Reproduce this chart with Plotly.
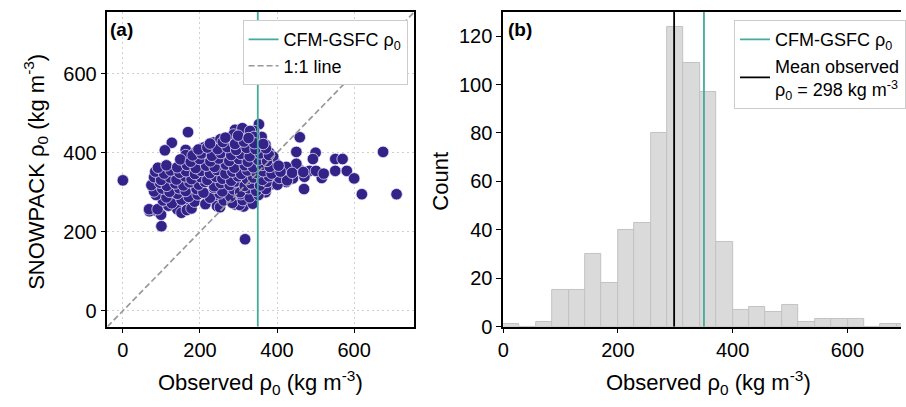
import plotly.graph_objects as go
import numpy as np

# ---------------- data ----------------
# Panel (a): observed vs SNOWPACK surface density (kg m-3)
obs_rho = [
    0, 69, 90, 99, 100, 148, 317, 169, 127, 109,
    163, 163, 353, 459, 450, 500, 493, 551, 570, 675,
    551, 581, 600, 620, 710, 516, 470, 433, 459, 484,
    501, 416, 398, 441, 471, 450, 424, 394, 381, 291,
    321, 347, 287, 236, 253, 210, 223, 189, 189, 99,
    133, 159, 68, 90, 141, 167, 236, 270, 296, 321,
    244, 291, 321, 313, 398, 424, 370, 380, 390, 370,
    385, 360, 340, 365, 310, 330, 300, 340,
    # core of the cloud
    152, 166,
    118, 178, 252, 303,
    104, 127, 152, 186, 214, 262, 284, 311, 337,
    86, 113, 141, 171, 194, 226, 251, 279, 306, 329, 352,
    81, 102, 121, 146, 163, 191, 209, 236, 258, 287, 304, 326, 346, 371,
    74, 96, 114, 136, 157, 173, 197, 213, 237, 254, 277, 293, 316, 333, 356, 374, 401,
    81, 99, 122, 139, 161, 178, 202, 219, 241, 258, 281, 299, 322, 338, 362, 379, 406, 426,
    84, 107, 124, 147, 164, 187, 203, 226, 244, 266, 284, 307, 323, 347, 364, 386, 409, 439, 468, 521,
    91, 113, 141, 166, 189, 216, 238, 267, 289, 316, 338, 361, 381, 404,
    149, 176, 199, 227, 249, 276, 301, 324, 351, 374,
    181, 204, 231, 254, 281, 306, 329, 356, 379,
    196, 219, 246, 271, 294, 321, 344, 371,
    226, 259, 291, 314, 341, 364,
    266, 299, 326,
]
snowpack_rho = [
    330, 252, 252, 243, 214, 252, 181, 452, 425, 406,
    407, 394, 472, 439, 402, 400, 384, 384, 384, 402,
    354, 354, 335, 295, 295, 336, 308, 354, 356, 354,
    354, 331, 331, 335, 339, 372, 364, 376, 356, 458,
    450, 429, 446, 426, 434, 413, 380, 401, 380, 290,
    286, 274, 257, 257, 257, 266, 282, 290, 274, 286,
    265, 269, 277, 264, 326, 326, 420, 400, 390, 300,
    320, 440, 455, 405, 462, 455, 440, 440,
    248, 255,
    266, 259, 262, 268,
    279, 272, 281, 276, 270, 279, 273, 280, 271,
    293, 287, 296, 288, 294, 286, 297, 289, 295, 287, 293,
    302, 309, 301, 310, 303, 308, 299, 311, 302, 307, 300, 310, 303, 308,
    318, 324, 316, 322, 317, 325, 319, 326, 315, 323, 318, 327, 316, 322, 317, 326, 319,
    338, 331, 337, 332, 340, 333, 338, 331, 339, 334, 329, 340, 333, 337, 331, 340, 336, 330,
    352, 347, 355, 349, 353, 346, 354, 348, 356, 347, 352, 346, 355, 349, 353, 347, 352, 349, 351, 347,
    362, 368, 363, 369, 361, 367, 364, 370, 362, 368, 363, 369, 364, 367,
    383, 377, 384, 378, 385, 379, 384, 377, 382, 379,
    393, 398, 392, 399, 394, 397, 391, 398, 394,
    408, 413, 409, 414, 407, 412, 409, 411,
    423, 427, 422, 428, 424, 422,
    438, 443, 437,
]

# Panel (b): histogram of observed surface density
hist_counts = [1, 0, 2, 15, 15, 30, 18, 40, 43, 80, 124, 109, 97, 35,
               7, 8, 6, 9, 2, 3, 3, 3, 0, 1, 1]
hist_min, hist_max = 0, 715

cfm_gsfc_rho = 350
mean_obs_rho = 298

tick_vals_a = [0, 200, 400, 600]
tick_vals_bx = [0, 200, 400, 600]
tick_vals_by = [0, 20, 40, 60, 80, 100, 120]

# ---------------- styles ----------------
W, H = 906, 407
FONT = "Liberation Sans, Arial, sans-serif"
INDIGO = "#332288"
TEAL = "#44AA99"
GRAY_DASH = "#999999"

def px_x(p):
    return p / W

def px_y(p):
    return 1 - p / H

edges = np.linspace(hist_min, hist_max, len(hist_counts) + 1)
centers = (edges[:-1] + edges[1:]) / 2
bw = edges[1] - edges[0]

fig = go.Figure()

# scatter
fig.add_trace(go.Scatter(
    x=obs_rho, y=snowpack_rho, mode="markers",
    marker=dict(size=11.5, color=INDIGO, line=dict(color="rgba(235,232,250,0.9)", width=0.8)),
    showlegend=False, xaxis="x", yaxis="y", hoverinfo="skip"))

lo_a, hi_a = -40, 756
fig.add_trace(go.Scatter(
    x=[cfm_gsfc_rho, cfm_gsfc_rho], y=[lo_a, hi_a], mode="lines",
    line=dict(color=TEAL, width=1.8), name="CFM-GSFC ρ<sub>0</sub>",
    legend="legend", xaxis="x", yaxis="y"))
fig.add_trace(go.Scatter(
    x=[lo_a, hi_a], y=[lo_a, hi_a], mode="lines",
    line=dict(color=GRAY_DASH, width=1.7, dash="6px,3px"), name="1:1 line",
    legend="legend", xaxis="x", yaxis="y"))

# histogram
fig.add_trace(go.Bar(
    x=centers, y=hist_counts, width=bw,
    marker=dict(color="#dadada", line=dict(color="#c2c2c2", width=1)),
    showlegend=False, xaxis="x2", yaxis="y2", hoverinfo="skip"))
fig.add_trace(go.Scatter(
    x=[cfm_gsfc_rho, cfm_gsfc_rho], y=[0, 130], mode="lines",
    line=dict(color=TEAL, width=1.8), name="CFM-GSFC ρ<sub>0</sub>",
    legend="legend2", xaxis="x2", yaxis="y2"))
fig.add_trace(go.Scatter(
    x=[mean_obs_rho, mean_obs_rho], y=[0, 130], mode="lines",
    line=dict(color="black", width=1.8),
    name="Mean observed<br>ρ<sub>0</sub> = %d kg m<sup>-3</sup>" % mean_obs_rho,
    legend="legend2", xaxis="x2", yaxis="y2"))

TICKF = dict(family=FONT, size=20, color="black")
axis_common = dict(showline=True, linecolor="black", linewidth=1.6, ticks="outside",
                   ticklen=5, tickwidth=1.3, tickcolor="black", zeroline=False,
                   tickfont=TICKF)

y_dom = [px_y(335.7), px_y(12.3)]

fig.update_layout(
    width=W, height=H, margin=dict(l=0, r=0, t=0, b=0),
    paper_bgcolor="white", plot_bgcolor="white",
    font=dict(family=FONT, color="black"),
    xaxis=dict(domain=[px_x(102.7), px_x(413.3)], range=[lo_a, hi_a], tickvals=tick_vals_a,
               mirror=True, showgrid=True, gridcolor="#d0d0d0", griddash="2px,3px", gridwidth=1,
               anchor="y", **axis_common),
    yaxis=dict(domain=y_dom, range=[lo_a, hi_a], tickvals=tick_vals_a,
               mirror=True, showgrid=True, gridcolor="#d0d0d0", griddash="2px,3px", gridwidth=1,
               anchor="x", **axis_common),
    xaxis2=dict(domain=[px_x(503.3), 1.0], range=[0, 693.5], tickvals=tick_vals_bx,
                mirror=True, showgrid=False, anchor="y2", **axis_common),
    yaxis2=dict(domain=y_dom, range=[0, 130], tickvals=tick_vals_by,
                mirror=False, showgrid=False, anchor="x2", **axis_common),
    legend=dict(x=px_x(239.5), y=px_y(20.7), xanchor="left", yanchor="top",
                bgcolor="white", bordercolor="#cccccc", borderwidth=1,
                font=dict(family=FONT, size=18, color="black"),
                itemwidth=30, tracegroupgap=2),
    legend2=dict(x=px_x(737), y=px_y(20.7), xanchor="left", yanchor="top",
                 bgcolor="white", bordercolor="#cccccc", borderwidth=1,
                 font=dict(family=FONT, size=18, color="black"),
                 itemwidth=30, tracegroupgap=2),
    bargap=0,
)

LABF = dict(family=FONT, size=22, color="black")
annots = [
    dict(text="<b>(a)</b>", x=px_x(103), y=px_y(30), xanchor="left", yanchor="middle",
         font=dict(family=FONT, size=19, color="black")),
    dict(text="<b>(b)</b>", x=px_x(506), y=px_y(30), xanchor="left", yanchor="middle",
         font=dict(family=FONT, size=19, color="black")),
    dict(text="Observed ρ<sub>0</sub> (kg m<sup>-3</sup>)", x=px_x(258), y=px_y(393),
         xanchor="center", yanchor="middle", font=LABF),
    dict(text="Observed ρ<sub>0</sub> (kg m<sup>-3</sup>)", x=px_x(711), y=px_y(393),
         xanchor="center", yanchor="middle", font=LABF),
    dict(text="SNOWPACK ρ<sub>0</sub> (kg m<sup>-3</sup>)", x=px_x(30), y=px_y(177),
         xanchor="center", yanchor="middle", textangle=-90, font=LABF),
    dict(text="Count", x=px_x(440), y=px_y(186),
         xanchor="center", yanchor="middle", textangle=-90, font=LABF),
]
for a in annots:
    a.update(xref="paper", yref="paper", showarrow=False)
fig.update_layout(annotations=annots)

fig.write_html("out.html")
